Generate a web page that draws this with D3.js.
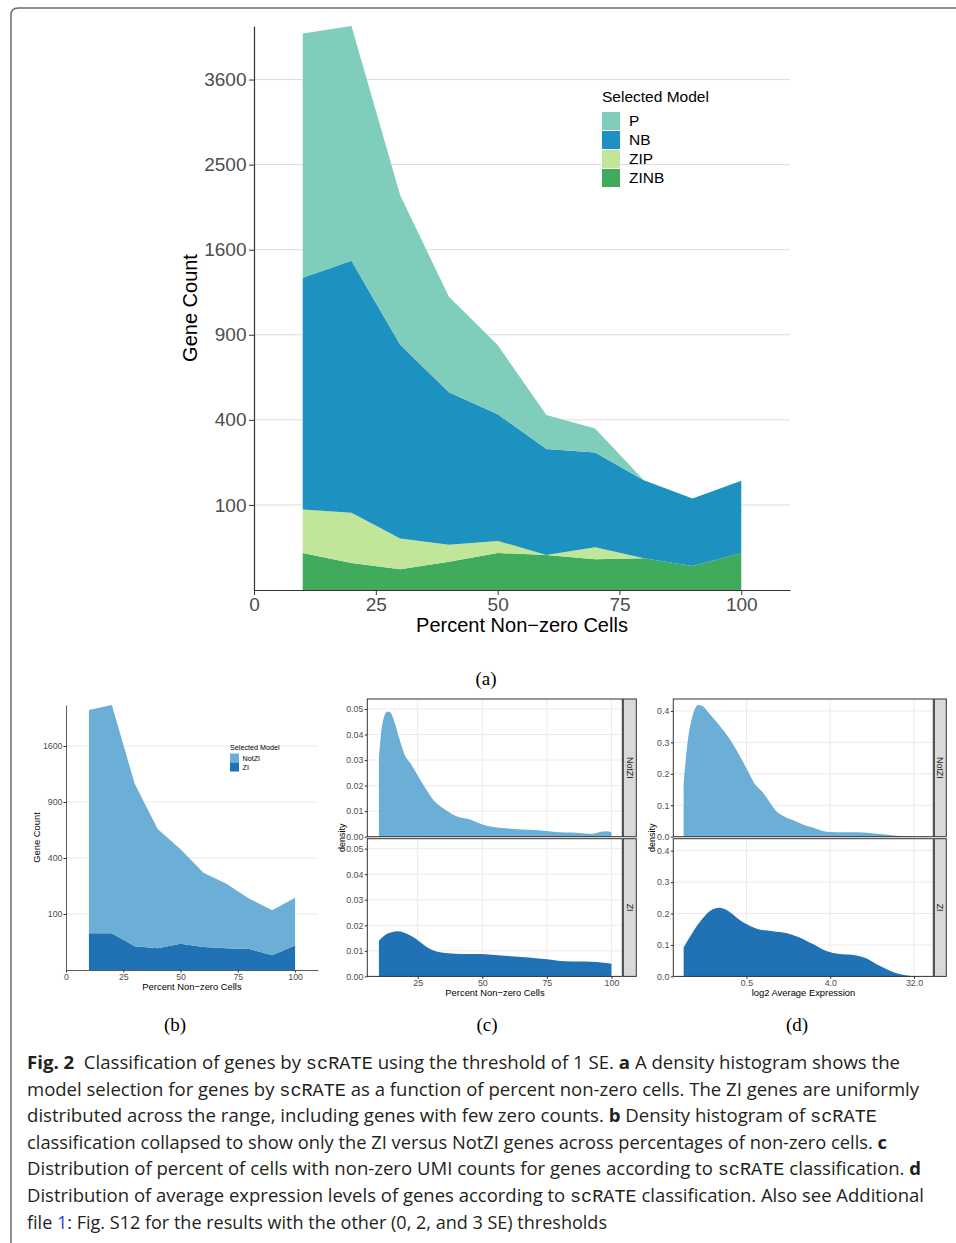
<!DOCTYPE html>
<html>
<head>
<meta charset="utf-8">
<script src="https://cdn.jsdelivr.net/npm/d3@7"></script>
<style>
body { margin: 0; background: #fff; }
svg { display: block; font-family: "Liberation Sans", Arial, sans-serif; }
</style>
</head>
<body>
<svg id="fig" width="956" height="1243"></svg>
<script>
// gene counts per percent non-zero bin (panels a and b)
const pct = [10, 20, 30, 40, 50, 60, 70, 80, 90, 100];
const countP    = [824, 761, 309, 126, 66, 16, 8, 0, 0, 0];
const countNB   = [743, 878, 519, 321, 222, 155, 124, 84, 63, 72];
const countZIP  = [26, 35, 13, 4, 2, 0, 2, 0, 0, 0];
const countZINB = [19, 10, 6, 11, 19, 17, 13, 14, 8, 19];
const countNotZI = [1588, 1661, 841, 453, 284, 175, 133, 81, 64, 73];
const countZI    = [43, 43, 18, 15, 22, 17, 15, 14, 7, 19];
const geneTicks = [100, 400, 900, 1600, 2500, 3600];
const geneTicksB = [100, 400, 900, 1600];
const pctTicks = [0, 25, 50, 75, 100];

// panel c: density of percent non-zero cells, [x, density]
const densPctNotZI = [[10,0.031],[11,0.042],[12,0.047],[13.3,0.049],[14.5,0.0485],[16,0.045],[18,0.038],[20,0.032],
  [22,0.029],[25,0.024],[28,0.019],[31,0.0145],[35,0.011],[40,0.008],[45,0.0068],[50,0.0048],[55,0.0037],
  [60,0.0032],[65,0.0028],[70,0.0026],[75,0.0022],[80,0.0017],[85,0.0016],[90,0.0013],[93,0.0012],
  [96,0.0019],[98,0.0021],[100,0.0017]];
const densPctZI = [[10,0.014],[12.4,0.0162],[14.9,0.0173],[17.5,0.0177],[20.1,0.017],[22.7,0.0157],[25.3,0.014],
  [27.8,0.012],[30.4,0.0104],[33,0.0096],[36.9,0.0091],[42,0.0088],[47.2,0.0088],[51,0.0087],[56.2,0.0083],
  [61.3,0.0079],[66.5,0.0075],[71.6,0.007],[76.8,0.0065],[82,0.0059],[87.1,0.0058],[92.3,0.0057],
  [96.1,0.0054],[100,0.005]];
const pctTicksC = [25, 50, 75, 100];
const densTicksC = [0, 0.01, 0.02, 0.03, 0.04, 0.05];

// panel d: density of log2 average expression, [log2 x, density]
const densExprNotZI = [[-3.25,0.17],[-3.18,0.239],[-3.09,0.313],[-2.97,0.371],[-2.82,0.411],[-2.73,0.419],
  [-2.58,0.416],[-2.34,0.393],[-1.98,0.355],[-1.62,0.313],[-1.26,0.26],[-1,0.2175],[-0.72,0.17],[-0.42,0.141],
  [-0.18,0.111],[0.06,0.082],[0.3,0.067],[0.66,0.053],[1.02,0.039],[1.38,0.029],[1.74,0.018],[2,0.015],
  [2.46,0.014],[2.94,0.014],[3.42,0.012],[3.9,0.0074],[4.38,0.003],[4.86,0.001],[5.28,0]];
const densExprZI = [[-3.25,0.092],[-2.94,0.138],[-2.58,0.183],[-2.28,0.21],[-1.98,0.218],[-1.74,0.213],
  [-1.44,0.194],[-1.14,0.173],[-0.9,0.162],[-0.54,0.149],[-0.06,0.144],[0.42,0.138],[0.9,0.124],[1.38,0.103],
  [1.86,0.081],[2.34,0.071],[2.82,0.068],[3.3,0.057],[3.66,0.039],[4.02,0.023],[4.38,0.01],[4.74,0.003],
  [5.1,0.0005],[5.28,0]];
const exprTicks = [-1, 2, 5];   // log2 of 0.5, 4, 32
const densTicksD = [0, 0.1, 0.2, 0.3, 0.4];

const colors = { P: '#7fcdbb', NB: '#1d91c0', ZIP: '#c2e699', ZINB: '#41ab5d', NotZI: '#6baed6', ZI: '#2171b5' };

const svg = d3.select('#fig');
svg.append('rect').attr('width', 956).attr('height', 1243).attr('fill', '#fff');
// rounded frame round the figure
svg.append('path').attr('d', 'M11,1243 V15 Q11,8 18,8 H956')
  .attr('fill', 'none').attr('stroke', '#6b6b6b').attr('stroke-width', 1.5);

function styleAxis(g, size, color) {
  g.attr('font-family', null).attr('font-size', null);
  g.selectAll('text').attr('font-size', size).attr('fill', '#4d4d4d');
  g.selectAll('line').attr('stroke', color);
  g.select('.domain').attr('stroke', color);
}

// stacked area chart on a sqrt y axis (layers stacked in sqrt space like ggplot)
function stackPanel(cfg) {
  const g = svg.append('g');
  const rows = pct.map((p, i) => {
    const r = { pct: p };
    cfg.series.forEach(s => r[s.key] = Math.sqrt(s.values[i]));
    return r;
  });
  const keys = cfg.series.map(s => s.key).reverse();
  const layers = d3.stack().keys(keys)(rows);
  const x = d3.scaleLinear().domain([0, 110]).range([cfg.x0, cfg.x1]);
  const top = d3.max(layers[layers.length - 1], d => d[1]);
  const y = d3.scaleLinear().domain([0, top]).range([cfg.y0, cfg.y1]);

  g.selectAll('line.grid').data(cfg.ticks).join('line').attr('class', 'grid')
    .attr('x1', cfg.x0).attr('x2', cfg.x1)
    .attr('y1', d => y(Math.sqrt(d))).attr('y2', d => y(Math.sqrt(d)))
    .attr('stroke', '#dcdcdc').attr('stroke-width', cfg.grid);

  const area = d3.area().x(d => x(d.data.pct)).y0(d => y(d[0])).y1(d => y(d[1]));
  g.selectAll('path.layer').data(layers).join('path').attr('class', 'layer')
    .attr('d', area).attr('fill', d => colors[d.key]);

  const ax = g.append('g').attr('transform', `translate(0,${cfg.y0})`)
    .call(d3.axisBottom(x).tickValues(pctTicks).tickSize(cfg.tick).tickSizeOuter(0).tickPadding(cfg.pad));
  styleAxis(ax, cfg.tickFont, '#333');
  ax.select('.domain').attr('stroke-width', cfg.axisW);
  const ay = g.append('g').attr('transform', `translate(${cfg.x0},0)`)
    .call(d3.axisLeft(y).tickValues(cfg.ticks.map(Math.sqrt)).tickFormat(d => Math.round(d * d))
      .tickSize(cfg.tick).tickSizeOuter(0).tickPadding(cfg.pad));
  styleAxis(ay, cfg.tickFont, '#333');
  ay.select('.domain').attr('stroke-width', cfg.axisW);

  g.append('text').attr('x', (cfg.x0 + cfg.x1) / 2).attr('y', cfg.xTitleY)
    .attr('text-anchor', 'middle').attr('font-size', cfg.titleFont).text('Percent Non\u2212zero Cells');
  g.append('text').attr('transform', `translate(${cfg.yTitleX},${(cfg.y0 + cfg.y1) / 2}) rotate(-90)`)
    .attr('text-anchor', 'middle').attr('dy', '0.35em').attr('font-size', cfg.titleFont).text('Gene Count');

  // legend
  const lg = g.append('g').attr('transform', `translate(${cfg.legX},${cfg.legY})`);
  lg.append('text').attr('y', 0).attr('font-size', cfg.legFont).text('Selected Model');
  cfg.series.forEach((s, i) => {
    lg.append('rect').attr('x', 0).attr('y', cfg.legTop + i * cfg.legStep)
      .attr('width', cfg.legKey).attr('height', cfg.legKey).attr('fill', colors[s.key]);
    lg.append('text').attr('x', cfg.legKey + cfg.legGap).attr('y', cfg.legTop + i * cfg.legStep + cfg.legKey / 2)
      .attr('dy', '0.35em').attr('font-size', cfg.legFont).text(s.key);
  });
}

stackPanel({
  series: [{ key: 'P', values: countP }, { key: 'NB', values: countNB },
           { key: 'ZIP', values: countZIP }, { key: 'ZINB', values: countZINB }],
  ticks: geneTicks, x0: 254, x1: 790, y0: 590, y1: 26,
  tick: 5, pad: 2.5, tickFont: 19, titleFont: 20, grid: 1, axisW: 1.2,
  xTitleY: 632, yTitleX: 190,
  legX: 602, legY: 102, legFont: 15.5, legTop: 10, legStep: 19, legKey: 18, legGap: 9
});

stackPanel({
  series: [{ key: 'NotZI', values: countNotZI }, { key: 'ZI', values: countZI }],
  ticks: geneTicksB, x0: 66, x1: 318, y0: 970, y1: 705,
  tick: 2.5, pad: 1, tickFont: 8.8, titleFont: 9.4, grid: 0.6, axisW: 0.8,
  xTitleY: 990, yTitleX: 37,
  legX: 230, legY: 749.5, legFont: 7.2, legTop: 4, legStep: 9, legKey: 9, legGap: 3.5
});

// faceted density panel with a strip on the right
function facet(cfg) {
  const g = svg.append('g');
  const y = d3.scaleLinear().domain([0, cfg.yMax]).range([cfg.bottom, cfg.top]);
  const x = cfg.x;
  g.selectAll('line.hg').data(cfg.yTicks).join('line').attr('class', 'hg')
    .attr('x1', cfg.left).attr('x2', cfg.right).attr('y1', d => y(d)).attr('y2', d => y(d))
    .attr('stroke', '#ebebeb').attr('stroke-width', 1);
  g.selectAll('line.vg').data(cfg.xTicks).join('line').attr('class', 'vg')
    .attr('x1', d => x(d)).attr('x2', d => x(d)).attr('y1', cfg.top).attr('y2', cfg.bottom)
    .attr('stroke', '#ebebeb').attr('stroke-width', 1);
  const area = d3.area().curve(d3.curveMonotoneX)
    .x(d => x(d[0])).y0(cfg.bottom).y1(d => y(d[1]));
  g.append('path').datum(cfg.pts).attr('d', area).attr('fill', cfg.color);
  g.append('rect').attr('x', cfg.left).attr('y', cfg.top)
    .attr('width', cfg.right - cfg.left).attr('height', cfg.bottom - cfg.top)
    .attr('fill', 'none').attr('stroke', '#333').attr('stroke-width', 1);

  const ay = g.append('g').attr('transform', `translate(${cfg.left},0)`)
    .call(d3.axisLeft(y).tickValues(cfg.yTicks).tickFormat(d3.format(cfg.fmt)).tickSize(2.5).tickPadding(1.5));
  styleAxis(ay, 8.8, '#333');
  ay.select('.domain').remove();
  if (cfg.showX) {
    const ax = g.append('g').attr('transform', `translate(0,${cfg.bottom})`)
      .call(d3.axisBottom(x).tickValues(cfg.xTicks).tickFormat(cfg.xFmt).tickSize(2.5).tickPadding(1));
    styleAxis(ax, 8.8, '#333');
    ax.select('.domain').remove();
  }
  // strip
  g.append('rect').attr('x', cfg.right + 1).attr('y', cfg.top)
    .attr('width', cfg.stripW).attr('height', cfg.bottom - cfg.top)
    .attr('fill', '#d9d9d9').attr('stroke', '#333').attr('stroke-width', 1);
  g.append('text').attr('transform', `translate(${cfg.right + 1 + cfg.stripW / 2},${(cfg.top + cfg.bottom) / 2}) rotate(90)`)
    .attr('text-anchor', 'middle').attr('dy', '0.35em').attr('font-size', 8.8).attr('fill', '#1a1a1a')
    .text(cfg.label);
}

const xC = d3.scaleLinear().domain([5.5, 104.2]).range([367.3, 622.3]);
const xD = d3.scaleLinear().domain([-3.62, 5.69]).range([673.3, 933.3]);
const fmtExpr = d => Math.pow(2, d).toFixed(1);

facet({ x: xC, left: 367.3, right: 622.3, top: 699, bottom: 836.7, yMax: 0.0539, yTicks: densTicksC, fmt: '.2f',
  xTicks: pctTicksC, xFmt: d3.format('d'), pts: densPctNotZI, color: colors.NotZI, label: 'NotZI', stripW: 13, showX: false });
facet({ x: xC, left: 367.3, right: 622.3, top: 838.7, bottom: 976.4, yMax: 0.0539, yTicks: densTicksC, fmt: '.2f',
  xTicks: pctTicksC, xFmt: d3.format('d'), pts: densPctZI, color: colors.ZI, label: 'ZI', stripW: 13, showX: true });
facet({ x: xD, left: 673.3, right: 933.3, top: 699, bottom: 836.7, yMax: 0.438, yTicks: densTicksD, fmt: '.1f',
  xTicks: exprTicks, xFmt: fmtExpr, pts: densExprNotZI, color: colors.NotZI, label: 'NotZI', stripW: 12, showX: false });
facet({ x: xD, left: 673.3, right: 933.3, top: 838.7, bottom: 976.4, yMax: 0.438, yTicks: densTicksD, fmt: '.1f',
  xTicks: exprTicks, xFmt: fmtExpr, pts: densExprZI, color: colors.ZI, label: 'ZI', stripW: 12, showX: true });

[[495, 'Percent Non\u2212zero Cells', 342], [803.5, 'log2 Average Expression', 652]].forEach(([cx, t, dx]) => {
  svg.append('text').attr('x', cx).attr('y', 996).attr('text-anchor', 'middle').attr('font-size', 9.4).text(t);
  svg.append('text').attr('transform', `translate(${dx},837.7) rotate(-90)`).attr('text-anchor', 'middle')
    .attr('dy', '0.35em').attr('font-size', 9).text('density');
});

// sub-figure labels
[[486, 685, '(a)'], [175, 1031, '(b)'], [487, 1031, '(c)'], [797, 1031, '(d)']].forEach(([x, y, t]) => {
  svg.append('text').attr('x', x).attr('y', y).attr('text-anchor', 'middle')
    .style('font-family', '"Liberation Serif", "DejaVu Serif", serif').attr('font-size', 19).text(t);
});

// caption: each line is a list of [text, style] runs, fitted to its measured width
const captionLines = [
  [[['Fig. 2', 'b'], ['  Classification of genes by ', ''], ['scRATE', 'm'], [' using the threshold of 1 SE. ', ''], ['a', 'b'], [' A density histogram shows the', '']], 873],
  [[['model selection for genes by ', ''], ['scRATE', 'm'], [' as a function of percent non-zero cells. The ZI genes are uniformly', '']], 892],
  [[['distributed across the range, including genes with few zero counts. ', ''], ['b', 'b'], [' Density histogram of ', ''], ['scRATE', 'm']], 850],
  [[['classification collapsed to show only the ZI versus NotZI genes across percentages of non-zero cells. ', ''], ['c', 'b']], 860],
  [[['Distribution of percent of cells with non-zero UMI counts for genes according to ', ''], ['scRATE', 'm'], [' classification. ', ''], ['d', 'b']], 894],
  [[['Distribution of average expression levels of genes according to ', ''], ['scRATE', 'm'], [' classification. Also see Additional', '']], 897],
  [[['file ', ''], ['1', 'l'], [': Fig. S12 for the results with the other (0, 2, and 3 SE) thresholds', '']], 580]
];
captionLines.forEach(([runs, width], i) => {
  const t = svg.append('text').attr('x', 27).attr('y', 1069 + i * 26.6)
    .style('font-family', '"Open Sans", "Noto Sans", sans-serif').attr('font-size', 18.5).attr('fill', '#231f20')
    .attr('textLength', width).attr('lengthAdjust', 'spacingAndGlyphs').attr('xml:space', 'preserve');
  runs.forEach(([s, k]) => {
    const ts = t.append('tspan').text(s);
    if (k === 'b') ts.attr('font-weight', 'bold');
    if (k === 'm') ts.style('font-family', '"Liberation Mono", "DejaVu Sans Mono", monospace');
    if (k === 'l') ts.attr('fill', '#2a3fd0');
  });
});
</script>
</body>
</html>
